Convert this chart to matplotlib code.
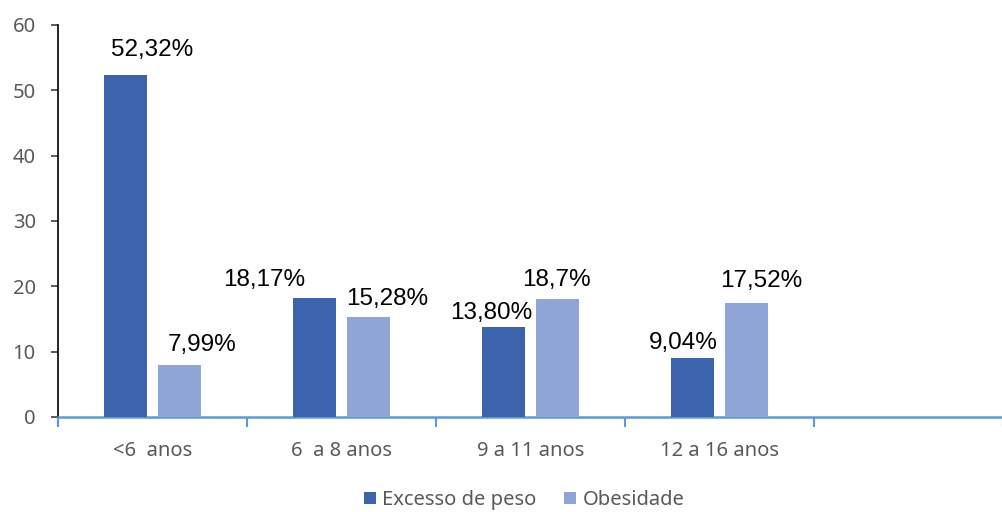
import matplotlib
matplotlib.use("Agg")
import matplotlib.pyplot as plt
import numpy as np

categories = ["<6  anos", "6  a 8 anos", "9 a 11 anos", "12 a 16 anos"]
excesso = [52.32, 18.17, 13.80, 9.04]
obesidade = [7.99, 15.28, 18.07, 17.52]
excesso_labels = ["52,32%", "18,17%", "13,80%", "9,04%"]
obesidade_labels = ["7,99%", "15,28%", "18,7%", "17,52%"]
series_names = ["Excesso de peso", "Obesidade"]
yticks = [0, 10, 20, 30, 40, 50, 60]

# label offsets (pixels) relative to bar top centre
exc_off = [(27, 25), (-50, 18), (-12, 14), (-9, 15)]
obe_off = [(23, 20), (19, 18), (-1, 19), (15, 22)]

c_dark = "#3B64AD"
c_light = "#8FA5D5"
gray = "#595959"

fig = plt.figure(figsize=(10.03, 5.12), dpi=100)
ax = fig.add_axes([58/1003, 1-417/512, 1-58/1003, (417-25)/512])

x = np.arange(len(categories))
w = 0.225
off = 0.1425
b1 = ax.bar(x - off, excesso, w, color=c_dark, label=series_names[0], zorder=3)
b2 = ax.bar(x + off, obesidade, w, color=c_light, label=series_names[1], zorder=3)

lab_font = dict(family="Liberation Sans", size=17.5, color="black")
for i in range(len(categories)):
    ax.annotate(excesso_labels[i], (x[i] - off, excesso[i]), xytext=exc_off[i],
                textcoords="offset pixels", ha="center", va="center", **lab_font)
    ax.annotate(obesidade_labels[i], (x[i] + off, obesidade[i]), xytext=obe_off[i],
                textcoords="offset pixels", ha="center", va="center", **lab_font)

ax.set_ylim(0, 60)
ax.set_xlim(-0.5, -0.5 + (1003 - 58) / 191.3)
ax.set_yticks(yticks)
ax.set_yticklabels([str(t) for t in yticks], family="Noto Sans", size=14.5, color=gray)
ax.set_xticks(x)
ax.set_xticklabels(categories, family="Noto Sans", size=14.5, color=gray)
ax.tick_params(axis="x", which="major", length=0, pad=17)
ax.set_xticks(np.arange(-0.5, 5.0, 1.0), minor=True)
ax.tick_params(axis="x", which="minor", length=7, color="#5B9BD5", width=1.5)
ax.tick_params(axis="y", length=5, color="#404040", width=1.2, pad=11)

for s in ["top", "right"]:
    ax.spines[s].set_visible(False)
ax.spines["left"].set_color("black")
ax.spines["left"].set_linewidth(1.2)
ax.spines["bottom"].set_color("#5B9BD5")
ax.spines["bottom"].set_linewidth(1.8)

leg = fig.legend(handles=[b1, b2], labels=series_names, loc="center",
                 bbox_to_anchor=(524/1003, 1-500/512), ncol=2, frameon=False,
                 prop=dict(family="Noto Sans", size=14.5), handlelength=0.6,
                 handleheight=0.6, handletextpad=0.3, columnspacing=1.4)
for t in leg.get_texts():
    t.set_color(gray)

fig.savefig("out.png", dpi=100)
